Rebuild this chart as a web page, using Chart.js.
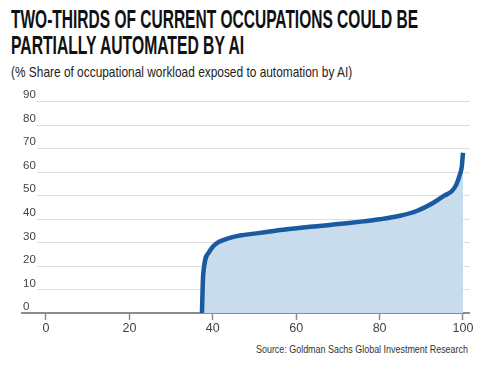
<!DOCTYPE html>
<html>
<head>
<meta charset="utf-8">
<script src="https://cdn.jsdelivr.net/npm/chart.js@4/dist/chart.umd.min.js"></script>
<style>
  body { margin: 0; background: #fff; width: 492px; height: 365px; overflow: hidden; position: relative; }
  .txt { position: absolute; left: 11px; white-space: nowrap; transform-origin: 0 0; font-family: "Liberation Sans Narrow", "Liberation Sans", sans-serif; }
  .title { font-size: 26px; line-height: 26px; font-weight: bold; color: #111; }
  .sub { font-size: 15px; line-height: 15px; color: #222; }
  .source { font-size: 11.5px; line-height: 11.5px; color: #333; }
  #wrap { position: absolute; left: 0; top: 80px; width: 492px; height: 265px; }
</style>
</head>
<body>
<div class="txt title" id="t1" data-w="407" style="top:6px">TWO-THIRDS OF CURRENT OCCUPATIONS COULD BE</div>
<div class="txt title" id="t2" data-w="233" style="top:32px">PARTIALLY AUTOMATED BY AI</div>
<div class="txt sub" id="st" data-w="341" style="top:64px">(% Share of occupational workload exposed to automation by AI)</div>
<div class="txt source" id="src" data-w="212" style="top:344px;left:256px">Source: Goldman Sachs Global Investment Research</div>
<div id="wrap"><canvas id="myChart"></canvas></div>
<script>
/* data */
const occupationPct = [37.4, 37.7, 39.1, 40.1, 41.0, 42.5, 44.5, 46.5, 50.5, 53.3, 56.1, 60.1, 64.1, 68.1, 72.1, 76.1, 80.1, 84.9, 88.9, 92.9, 95.5, 97.3, 98.4, 99.2, 99.7, 100];
const exposureShare = [0, 16.3, 25.8, 28.3, 29.7, 30.9, 32.1, 32.9, 33.8, 34.5, 35.2, 36.0, 36.7, 37.4, 38.1, 38.9, 39.8, 41.3, 43.3, 46.8, 49.8, 51.7, 54.5, 58.5, 62, 68];
const xTicks = [0, 20, 40, 60, 80, 100];
const yTicks = [0, 10, 20, 30, 40, 50, 60, 70, 80, 90];

/* squeeze the text to the widths of the original */
document.querySelectorAll('.txt').forEach(function(el) {
    const w = el.scrollWidth;
    el.style.transform = 'scaleX(' + (parseFloat(el.dataset.w) / w) + ')';
});

const font = '"Liberation Sans Narrow", "Liberation Sans", sans-serif';

/* grid lines start right of the y labels */
const gridPlugin = {
    id: 'gridLines',
    beforeDatasetsDraw(chart) {
        const ctx = chart.ctx;
        const y = chart.scales.y;
        const area = chart.chartArea;
        ctx.save();
        ctx.strokeStyle = '#dedede';
        ctx.lineWidth = 1;
        yTicks.forEach(function(v) {
            if (v === 0) return;
            const py = Math.round(y.getPixelForValue(v)) + 0.5;
            ctx.beginPath();
            ctx.moveTo(area.left + 15, py);
            ctx.lineTo(area.right + 1, py);
            ctx.stroke();
        });
        ctx.restore();
    }
};

const ctx = document.getElementById('myChart').getContext('2d');

const chart = new Chart(ctx, {
    type: 'line',
    data: {
        datasets: [{
            data: occupationPct.map(function(x, i) { return { x: x, y: exposureShare[i] }; }),
            borderColor: '#1a5a9e',
            backgroundColor: '#c9dcee',
            borderWidth: 4.5,
            fill: 'origin',
            pointRadius: 0,
            cubicInterpolationMode: 'monotone',
            borderJoinStyle: 'round',
            borderCapStyle: 'butt'
        }]
    },
    options: {
        responsive: true,
        maintainAspectRatio: false,
        animation: false,
        layout: { padding: { top: 21, left: 22, right: 23, bottom: 0 } },
        plugins: { legend: { display: false }, tooltip: { enabled: false } },
        scales: {
            x: {
                type: 'linear',
                min: -5.75,
                max: 101.44,
                afterFit: function(scale) { scale.height = 32; },
                afterBuildTicks: function(scale) { scale.ticks = xTicks.map(function(v) { return { value: v }; }); },
                border: { display: true, color: '#8c8c8c', width: 2 },
                grid: { drawOnChartArea: false, drawTicks: true, tickLength: 7, tickWidth: 1.5, tickColor: '#8c8c8c' },
                ticks: { color: '#444', padding: 1, maxRotation: 0, font: { family: font, size: 12.5 } }
            },
            y: {
                min: 0,
                max: 90,
                afterFit: function(scale) { scale.width = 0; },
                afterBuildTicks: function(scale) { scale.ticks = yTicks.map(function(v) { return { value: v }; }); },
                border: { display: false },
                grid: { display: false },
                ticks: { mirror: true, padding: 1, labelOffset: -6, color: '#444', font: { family: font, size: 11.5 } }
            }
        }
    },
    plugins: [gridPlugin]
});
</script>
</body>
</html>
